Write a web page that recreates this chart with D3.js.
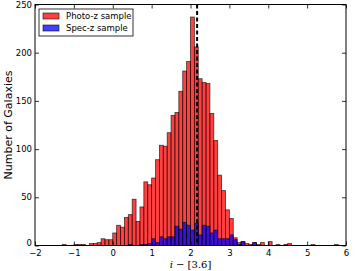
<!DOCTYPE html>
<html>
<head>
<meta charset="utf-8">
<script src="https://cdn.jsdelivr.net/npm/d3@7"></script>
<style>
  body { margin: 0; background: #fff; }
  svg { display: block; font-family: "DejaVu Sans", sans-serif; }
</style>
</head>
<body>
<div id="chart"></div>
<script>
// histogram bins: first bin starts at -1.3, width 0.1
var binStart = -1.3;
var binWidth = 0.1;

var photoCounts = [
    1, 0, 0, 1, 1, 1, 0, 2, 2, 3,
    7, 6, 6, 13, 21, 19, 29, 32, 48, 25,
    40, 66, 63, 70, 89, 104, 103, 117, 135, 138,
    160, 181, 191, 237, 206, 173, 169, 168, 137, 109,
    73, 57, 37, 28, 8, 3, 4, 2, 1, 3,
    1, 3, 0, 4, 0, 1, 0, 1, 2, 0,
    0, 0, 0, 0, 1, 0, 0, 0, 0, 0, 1
];

var specCounts = [
    0, 0, 0, 0, 0, 0, 0, 0, 0, 0,
    0, 0, 0, 0, 0, 0, 0, 1, 0, 0,
    1, 1, 2, 7, 3, 9, 7, 9, 9, 20,
    17, 24, 21, 16, 23, 11, 21, 20, 13, 16,
    7, 7, 7, 11, 6, 1, 4, 0, 0, 3,
    0, 0, 0, 0, 0, 0, 0, 0, 0, 0,
    0, 0, 0, 0, 0, 0, 0, 0, 0, 0, 0
];

var medianLine = 2.17;

var xTicks = [-2, -1, 0, 1, 2, 3, 4, 5, 6];
var yTicks = [0, 50, 100, 150, 200, 250];
var seriesNames = ['Photo-z sample', 'Spec-z sample'];

var width = 356, height = 271;
var margin = { left: 35, right: 10, top: 4.5, bottom: 25.5 };

var svg = d3.select('#chart')
    .append('svg')
    .attr('width', width)
    .attr('height', height);

var x = d3.scaleLinear().domain([-2, 6]).range([margin.left, width - margin.right]);
var y = d3.scaleLinear().domain([0, 250]).range([height - margin.bottom, margin.top]);

var redFill = 'rgba(255,0,0,0.75)';
var blueFill = 'rgba(0,0,255,0.75)';
var edge = 'rgba(0,0,0,0.7)';

function toBins(counts) {
    return counts.map(function (c, i) {
        return { x0: binStart + i * binWidth, n: c };
    }).filter(function (d) { return d.n > 0; });
}

function drawBars(counts, fill) {
    svg.append('g').selectAll('rect')
        .data(toBins(counts))
        .enter().append('rect')
        .attr('x', function (d) { return x(d.x0); })
        .attr('width', function (d) { return x(d.x0 + binWidth) - x(d.x0); })
        .attr('y', function (d) { return y(d.n); })
        .attr('height', function (d) { return y(0) - y(d.n); })
        .attr('fill', fill)
        .attr('stroke', edge)
        .attr('stroke-width', 0.8);
}

drawBars(photoCounts, redFill);
drawBars(specCounts, blueFill);

// dashed vertical line
svg.append('line')
    .attr('x1', x(medianLine)).attr('x2', x(medianLine))
    .attr('y1', y(250)).attr('y2', y(0))
    .attr('stroke', '#000')
    .attr('stroke-width', 2)
    .attr('stroke-dasharray', '4,2.5');

// frame
svg.append('rect')
    .attr('x', x(-2)).attr('y', y(250))
    .attr('width', x(6) - x(-2)).attr('height', y(0) - y(250))
    .attr('fill', 'none')
    .attr('stroke', '#000')
    .attr('stroke-width', 1);

// axes with inward ticks (classic matplotlib look)
var axisBottom = d3.axisBottom(x).tickValues(xTicks).tickSizeInner(-4).tickSizeOuter(0)
    .tickPadding(4.5).tickFormat(function (d) { return d < 0 ? '\u2212' + Math.abs(d) : d; });
var axisTop = d3.axisTop(x).tickValues(xTicks).tickSizeInner(-4).tickSizeOuter(0).tickFormat('');
var axisLeft = d3.axisLeft(y).tickValues(yTicks).tickSizeInner(-4).tickSizeOuter(0).tickPadding(3);
var axisRight = d3.axisRight(y).tickValues(yTicks).tickSizeInner(-4).tickSizeOuter(0).tickFormat('');

function styleAxis(g) {
    g.select('.domain').remove();
    g.selectAll('.tick line').attr('stroke', '#000').attr('stroke-width', 0.8);
    g.selectAll('.tick text')
        .attr('fill', '#000')
        .style('font-family', '"DejaVu Sans", sans-serif')
        .style('font-size', '8.5px');
}

svg.append('g').attr('transform', 'translate(0,' + y(0) + ')').call(axisBottom).call(styleAxis);
svg.append('g').attr('transform', 'translate(0,' + y(250) + ')').call(axisTop).call(styleAxis);
svg.append('g').attr('transform', 'translate(' + x(-2) + ',0)').call(axisLeft).call(styleAxis)
    .selectAll('.tick text').attr('dy', function (d) { return d === 0 ? '0.05em' : '0.3em'; });
svg.append('g').attr('transform', 'translate(' + x(6) + ',0)').call(axisRight).call(styleAxis);

// axis labels
svg.append('text')
    .attr('transform', 'translate(8,' + ((y(0) + y(250)) / 2) + ') rotate(-90)')
    .attr('text-anchor', 'middle')
    .attr('dy', '0.35em')
    .style('font-size', '11px')
    .text('Number of Galaxies');

var xl = svg.append('text')
    .attr('x', (x(-2) + x(6)) / 2)
    .attr('y', 267.8)
    .attr('text-anchor', 'middle')
    .style('font-family', '"DejaVu Serif", serif')
    .style('font-size', '10px');
xl.append('tspan').style('font-style', 'italic').text('i');
xl.append('tspan').text(' \u2212 [3.6]');

// legend
var legend = svg.append('g').attr('transform', 'translate(39,9)');
legend.append('rect')
    .attr('width', 94).attr('height', 27)
    .attr('fill', '#fff')
    .attr('stroke', '#000')
    .attr('stroke-width', 0.8);

var keys = legend.selectAll('.key')
    .data(seriesNames)
    .enter().append('g')
    .attr('class', 'key')
    .attr('transform', function (d, i) { return 'translate(4,' + (4 + i * 12) + ')'; });

keys.append('rect')
    .attr('width', 16).attr('height', 6)
    .attr('fill', function (d, i) { return i === 0 ? redFill : blueFill; })
    .attr('stroke', edge)
    .attr('stroke-width', 0.8);

keys.append('text')
    .attr('x', 23)
    .attr('y', 3)
    .attr('dy', '0.35em')
    .style('font-size', '8.5px')
    .text(function (d) { return d; });
</script>
</body>
</html>
